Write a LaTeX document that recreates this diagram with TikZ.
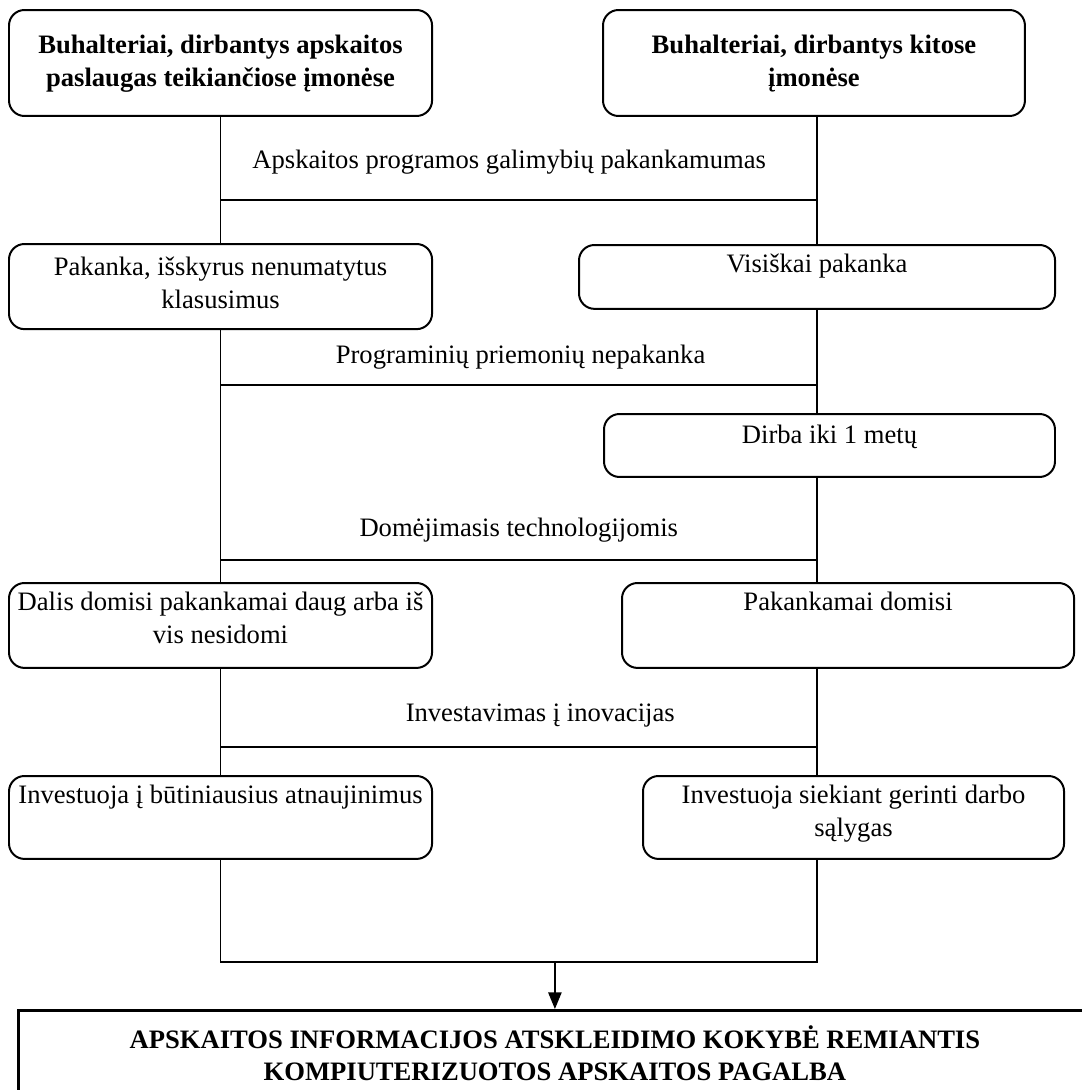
\documentclass[tikz,border=0pt]{standalone}
\usepackage{fontspec}
\setmainfont{Liberation Serif}
\usetikzlibrary{arrows.meta}

\begin{document}
\begin{tikzpicture}[
x=0.451pt, y=-0.451pt,
box/.style={draw, line width=0.9pt, rounded corners=7pt, anchor=north west, inner sep=0pt, align=flush center, font=\fontsize{12}{14.9}\selectfont},
head/.style={box, font=\fontsize{12}{14.9}\selectfont\bfseries},
result/.style={draw, line width=1.3pt, anchor=north west, inner sep=0pt, align=flush center, font=\fontsize{12}{14.4}\selectfont\bfseries},
link/.style={line width=0.7pt},
branchlabel/.style={anchor=base, inner sep=0pt, font=\fontsize{12}{14.4}\selectfont},
arrow/.style={-{Triangle[length=7.5pt,width=6pt]},line width=0.7pt}
]

\useasboundingbox (0,0) rectangle (1082,1090);

\node[head, text width=190.8pt, text height=19.4pt, text depth=28.4pt] (b1) at (8,9) {Buhalteriai, dirbantys apskaitos\\paslaugas teikiančiose įmonėse};

\node[head, text width=190.3pt, text height=19.4pt, text depth=28.4pt] (b2) at (602,9) {Buhalteriai, dirbantys kitose\\įmonėse};

\node[box, text width=190.8pt, text height=14pt, text depth=24.4pt] (b3) at (8,243) {Pakanka, išskyrus nenumatytus\\klasusimus};

\node[box, text width=214.7pt, text height=12.6pt, text depth=16.2pt] (b4) at (578,244) {Visiškai pakanka};

\node[box, text width=203.4pt, text height=13.5pt, text depth=14.9pt] (b5) at (603,413) {Dirba iki 1 metų};

\node[box, text width=190.8pt, text height=12.6pt, text depth=25.7pt] (b6) at (8,582) {Dalis domisi pakankamai daug arba iš\\vis nesidomi};

\node[box, text width=203.9pt, text height=12.6pt, text depth=25.7pt] (b7) at (621,582) {Pakankamai domisi};

\node[box, text width=190.8pt, text height=12.6pt, text depth=24.8pt] (b8) at (8,775) {Investuoja į būtiniausius atnaujinimus};

\node[box, text width=189.9pt, text height=12.6pt, text depth=24.8pt] (b9) at (642,775) {Investuoja siekiant gerinti darbo\\sąlygas};

\node[result, text width=483.9pt, text height=17.1pt, text depth=23.9pt] (res) at (17,1009) {APSKAITOS INFORMACIJOS ATSKLEIDIMO KOKYBĖ REMIANTIS\\KOMPIUTERIZUOTOS APSKAITOS PAGALBA};

\coordinate (rx) at (817,0);
\coordinate (j1) at (b1.south |- 0,200);
\coordinate (j2) at (b1.south |- 0,385);
\coordinate (j3) at (b1.south |- 0,560);
\coordinate (j4) at (b1.south |- 0,747);
\coordinate (jb) at (b8.south |- 0,962);

\draw[link] (b1.south) -- (b3.north);
\draw[link] (rx |- b2.south) -- (rx |- b4.north);
\draw[link] (j1) -- node[branchlabel, pos=0.484, yshift=14.4pt] {Apskaitos programos galimybių pakankamumas} (j1 -| rx);

\draw[link] (b3.south) -- (b6.north);
\draw[link] (rx |- b4.south) -- (rx |- b5.north);
\draw[link] (j2) -- node[branchlabel, pos=0.503, yshift=9.5pt] {Programinių priemonių nepakanka} (j2 -| rx);

\draw[link] (rx |- b5.south) -- (rx |- b7.north);
\draw[link] (j3) -- node[branchlabel, pos=0.5, yshift=10.4pt] {Domėjimasis technologijomis} (j3 -| rx);

\draw[link] (b6.south) -- (b8.north);
\draw[link] (rx |- b7.south) -- (rx |- b9.north);
\draw[link] (j4) -- node[branchlabel, pos=0.536, yshift=11.3pt] {Investavimas į inovacijas} (j4 -| rx);

\draw[link] (b8.south) -- (jb) -- (jb -| rx) -- (rx |- b9.south);
\draw[arrow] (jb -| res.north) -- (res.north);

\end{tikzpicture}
\end{document}
